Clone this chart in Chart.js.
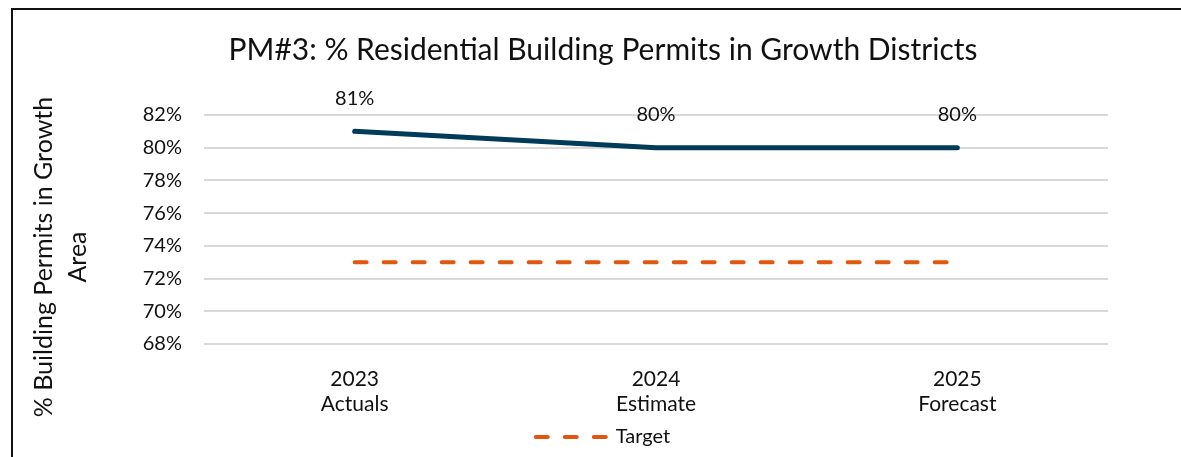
<!DOCTYPE html>
<html>
<head>
<meta charset="utf-8">
<title>PM#3: % Residential Building Permits in Growth Districts</title>
<script src="https://cdn.jsdelivr.net/npm/chart.js@4.4.1/dist/chart.umd.min.js"></script>
<style>
    html, body { margin: 0; padding: 0; background: #fff; }
    #wrap  { position: relative; width: 1181px; height: 457px; overflow: hidden; }
    #frame { position: absolute; left: 11px; top: 8px; width: 1400px; height: 700px;
             border-left: 2px solid #111; border-top: 2px solid #111; }
    #pmChart { position: absolute; left: 0; top: 0; }
</style>
</head>
<body>
<div id="wrap">
    <div id="frame"></div>
    <canvas id="pmChart" width="1181" height="457"></canvas>
</div>
<script>
// Data
const categories   = [["2023", "Actuals"], ["2024", "Estimate"], ["2025", "Forecast"]];
const actualValues = [81, 80, 80];
const targetValues = [73, 73, 73];
const yMin = 68, yMax = 82, yStep = 2;

const FONT    = "Lato, 'Noto Sans', sans-serif";
const INK     = "#111111";
const NAVY    = "#013B5A";
const ORANGE  = "#E2570F";

// value labels above the solid line
const pointLabels = {
    id: "pointLabels",
    afterDatasetsDraw: function (chart) {
        var ctx  = chart.ctx;
        var meta = chart.getDatasetMeta(0);
        ctx.save();
        ctx.font = "20px " + FONT;
        ctx.fillStyle = INK;
        ctx.textAlign = "center";
        ctx.textBaseline = "middle";
        meta.data.forEach(function (pt, i) {
            ctx.fillText(actualValues[i] + "%", pt.x, pt.y - 33);
        });
        ctx.restore();
    }
};

// y axis title, two lines, centred like the Excel original
const yTitle = {
    id: "yTitle",
    afterDraw: function (chart) {
        var ctx = chart.ctx;
        var lines = ["% Building Permits in Growth", "Area"];
        ctx.save();
        ctx.translate(44, 257);
        ctx.rotate(-Math.PI / 2);
        ctx.font = "25px " + FONT;
        ctx.fillStyle = INK;
        ctx.textAlign = "center";
        ctx.textBaseline = "middle";
        for (var i = 0; i < lines.length; i++) {
            ctx.fillText(lines[i], 0, i * 34);
        }
        ctx.restore();
    }
};

new Chart(document.getElementById("pmChart"), {
    type: "line",
    data: {
        labels: categories,
        datasets: [
            {
                label: "PM#3",
                data: actualValues,
                borderColor: NAVY,
                backgroundColor: NAVY,
                borderWidth: 5,
                borderCapStyle: "round",
                borderJoinStyle: "round",
                pointRadius: 0,
                pointHoverRadius: 0,
                tension: 0
            },
            {
                label: "Target",
                data: targetValues,
                borderColor: ORANGE,
                backgroundColor: ORANGE,
                borderWidth: 4,
                borderDash: [12, 17],
                borderCapStyle: "round",
                pointRadius: 0,
                pointHoverRadius: 0,
                tension: 0
            }
        ]
    },
    options: {
        responsive: false,
        animation: false,
        layout: { padding: { left: 98, right: 73, top: 0, bottom: 0 } },
        plugins: {
            title: {
                display: true,
                text: "PM#3: % Residential Building Permits in Growth Districts",
                color: INK,
                font: { family: FONT, size: 30, weight: "normal" },
                padding: { top: 32, bottom: 47 }
            },
            legend: {
                position: "bottom",
                labels: {
                    usePointStyle: true,
                    pointStyleWidth: 70,
                    color: INK,
                    font: { family: FONT, size: 20 },
                    padding: 6,
                    // only the target line is listed, drawn dashed like the series
                    generateLabels: function (chart) {
                        var ds = chart.data.datasets[1];
                        return [{
                            text: ds.label,
                            datasetIndex: 1,
                            hidden: false,
                            fontColor: INK,
                            fillStyle: ds.borderColor,
                            strokeStyle: ds.borderColor,
                            lineWidth: ds.borderWidth,
                            lineDash: ds.borderDash,
                            lineCap: "round",
                            pointStyle: "line"
                        }];
                    }
                }
            },
            tooltip: { enabled: false }
        },
        scales: {
            x: {
                offset: true,
                afterFit: function (s) { s.height = 77; },
                grid: { display: false },
                border: { display: false },
                ticks: { color: INK, font: { family: FONT, size: 21, lineHeight: 1.19 }, padding: 15, maxRotation: 0 }
            },
            y: {
                min: yMin,
                max: yMax,
                afterFit: function (s) { s.width = 106; },
                grid: { color: "#d9d9d9", lineWidth: 2, drawTicks: false },
                border: { display: false },
                ticks: {
                    stepSize: yStep,
                    color: INK,
                    padding: 22,
                    font: { family: FONT, size: 20 },
                    callback: function (v) { return v + "%"; }
                }
            }
        }
    },
    plugins: [pointLabels, yTitle]
});
</script>
</body>
</html>
